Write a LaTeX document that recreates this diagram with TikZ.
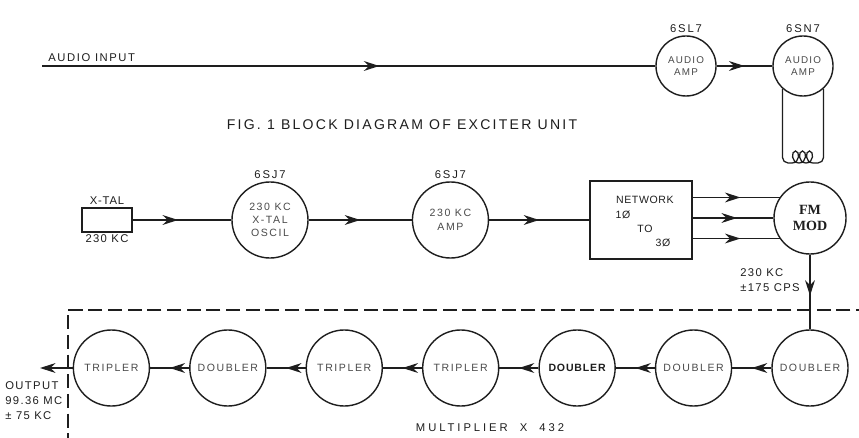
\documentclass[tikz,border=0pt]{standalone}
\usepackage{fontspec}
\setmainfont{Liberation Sans}
\newfontfamily\modfont{Liberation Serif}
\usepackage{tikz}
\usetikzlibrary{arrows.meta, positioning, calc, decorations.markings}
\definecolor{inkblack}{HTML}{1E1E1E}
\definecolor{inkgray}{HTML}{4A4A4A}
\tikzset{
	tube/.style={circle, draw=inkblack, line width=1pt, minimum size=1.9cm, inner sep=0pt, align=center, font=\fontsize{7.5}{9.5}\selectfont\addfontfeature{LetterSpace=15}, text=inkgray},
	audiotube/.style={tube, minimum size=1.5cm, font=\fontsize{7}{9}\selectfont\addfontfeature{LetterSpace=12}},
	crystal/.style={rectangle, draw=inkblack, line width=1pt, minimum width=1.25cm, minimum height=0.6cm, inner sep=0pt},
	netbox/.style={rectangle, draw=inkblack, line width=1pt, minimum width=2.55cm, minimum height=1.95cm, inner sep=0pt},
	tubename/.style={font=\fontsize{8}{9}\selectfont\addfontfeature{LetterSpace=16}, text=inkblack, inner sep=1.5pt},
	sigtext/.style={font=\fontsize{8}{10.6}\selectfont\addfontfeature{LetterSpace=12}, text=inkblack, inner sep=1.5pt},
	nettext/.style={font=\fontsize{7.5}{9}\selectfont\addfontfeature{LetterSpace=6}, text=inkblack, inner sep=1.5pt},
	wire/.style={line width=1pt, draw=inkblack},
	flow/.style={wire, postaction={decorate}, decoration={markings, mark=at position #1 with {\arrow{Stealth[length=11pt, width=7pt]}}}},
	flow/.default=0.5,
	endarrow/.style={wire, -{Stealth[length=11pt, width=7pt]}},
	groupline/.style={line width=0.8pt, draw=inkblack, dash pattern=on 10pt off 4pt}
}
\begin{document}
\begin{tikzpicture}[x=0.025cm, y=-0.025cm]
		\clip (0,0) rectangle (859,438);
		\fill[white] (0,0) rectangle (859,438);
		
		% Audio chain
		\coordinate (audioin) at (42,66);
		\node (sl7) [audiotube] at (686,66) {AUDIO\\AMP};
		\node (sn7) [audiotube] at (803,66) {AUDIO\\AMP};
		\node [tubename, above=0pt of sl7] {6SL7};
		\node [tubename, above=0pt of sn7] {6SN7};
		\node [sigtext, anchor=south west, font=\fontsize{8}{10}\selectfont\addfontfeature{LetterSpace=14}] at (46,64) {AUDIO\ INPUT};
		\node (caption) [sigtext, font=\fontsize{10}{12}\selectfont\addfontfeature{LetterSpace=16}] at (402,125) {FIG. 1 BLOCK\ DIAGRAM\ OF\ EXCITER\ UNIT};
		
		% Coil below the 6SN7
		\coordinate (coilL) at (792,163);
		\coordinate (coilR) at (813,163);
		\draw [wire, line width=0.9pt, rounded corners=4pt] (sn7.-132) -- (sn7.-132 |- coilL) -- (coilL);
		\draw [wire, line width=0.9pt, rounded corners=4pt] (sn7.-48) -- (sn7.-48 |- coilR) -- (coilR);
		\draw [wire, line width=0.9pt] (coilL) \foreach \cx in {792,799,806} { .. controls (\cx+8,163) and (\cx+8,151) .. (\cx+3.5,151) .. controls (\cx-1,151) and (\cx-1,163) .. (\cx+7,163) };
		
		% Crystal oscillator chain
		\node (xtal) [crystal] at (107,220) {};
		\node [sigtext, above=0pt of xtal, font=\fontsize{8}{10}\selectfont\addfontfeature{LetterSpace=7}] {X-TAL};
		\node [sigtext, below=0pt of xtal] {230 KC};
		\node (oscil) [tube] at (270,220) {230 KC\\X-TAL\\OSCIL};
		\node [tubename, above=0pt of oscil] {6SJ7};
		\node (amp) [tube, right=2.575cm of oscil] {230 KC\\AMP};
		\node [tubename, above=0pt of amp] {6SJ7};
		\node (network) [netbox, right=2.5cm of amp] {};
		\node [nettext] at ($(network.center)+(4,-20)$) {NETWORK};
		\node [nettext] at ($(network.center)+(-18,-5)$) {1Ø};
		\node [nettext] at ($(network.center)+(4,9)$) {TO};
		\node [nettext] at ($(network.center)+(22,23)$) {3Ø};
		\node (fmmod) [tube, minimum size=1.8cm, font=\modfont\bfseries\fontsize{10}{12}\selectfont, text=inkblack] at (810,218) {FM\\MOD};
		\node [sigtext, anchor=east, align=left] at (802,280) {230 KC\\±175 CPS};
		
		% Multiplier chain
		\node (dbla) [tube] at (810,368) {DOUBLER};
		\node (dblb) [tube, left=0.975cm of dbla] {DOUBLER};
		\node (dblc) [tube, left=0.975cm of dblb, font=\bfseries\fontsize{7.5}{9.5}\selectfont\addfontfeature{LetterSpace=8}, text=inkblack] {DOUBLER};
		\node (tria) [tube, left=0.975cm of dblc] {TRIPLER};
		\node (trib) [tube, left=0.975cm of tria] {TRIPLER};
		\node (dbld) [tube, left=0.975cm of trib] {DOUBLER};
		\node (tric) [tube, left=0.975cm of dbld] {TRIPLER};
		\coordinate (output) at (40,368);
		\node [sigtext, anchor=north west, align=left] at (3,379) {OUTPUT\\99.36 MC\\± 75 KC};
		\node [sigtext, font=\fontsize{8}{10}\selectfont\addfontfeature{LetterSpace=26}] at (490,428) {MULTIPLIER\ \ X\ \ 432};
		\draw [groupline] (870,310) -- (68,310) -- (68,450);
		
		% Connections
		\draw [flow=0.55] (audioin) -- (sl7);
		\draw [flow] (sl7) -- (sn7);
		\draw [flow=0.46] (xtal) -- (oscil);
		\draw [flow] (oscil) -- (amp);
		\draw [flow] (amp) -- (network);
		\draw [flow=0.55] (network.east |- fmmod.146) -- (fmmod.146);
		\draw [flow=0.55] (network.east |- fmmod.west) -- (fmmod.west);
		\draw [flow=0.55] (network.east |- fmmod.214) -- (fmmod.214);
		\draw [flow=0.55] (fmmod) -- (dbla);
		\draw [flow] (dbla) -- (dblb);
		\draw [flow] (dblb) -- (dblc);
		\draw [flow] (dblc) -- (tria);
		\draw [flow] (tria) -- (trib);
		\draw [flow] (trib) -- (dbld);
		\draw [flow] (dbld) -- (tric);
		\draw [endarrow] (tric) -- (output);
	\end{tikzpicture}
\end{document}
